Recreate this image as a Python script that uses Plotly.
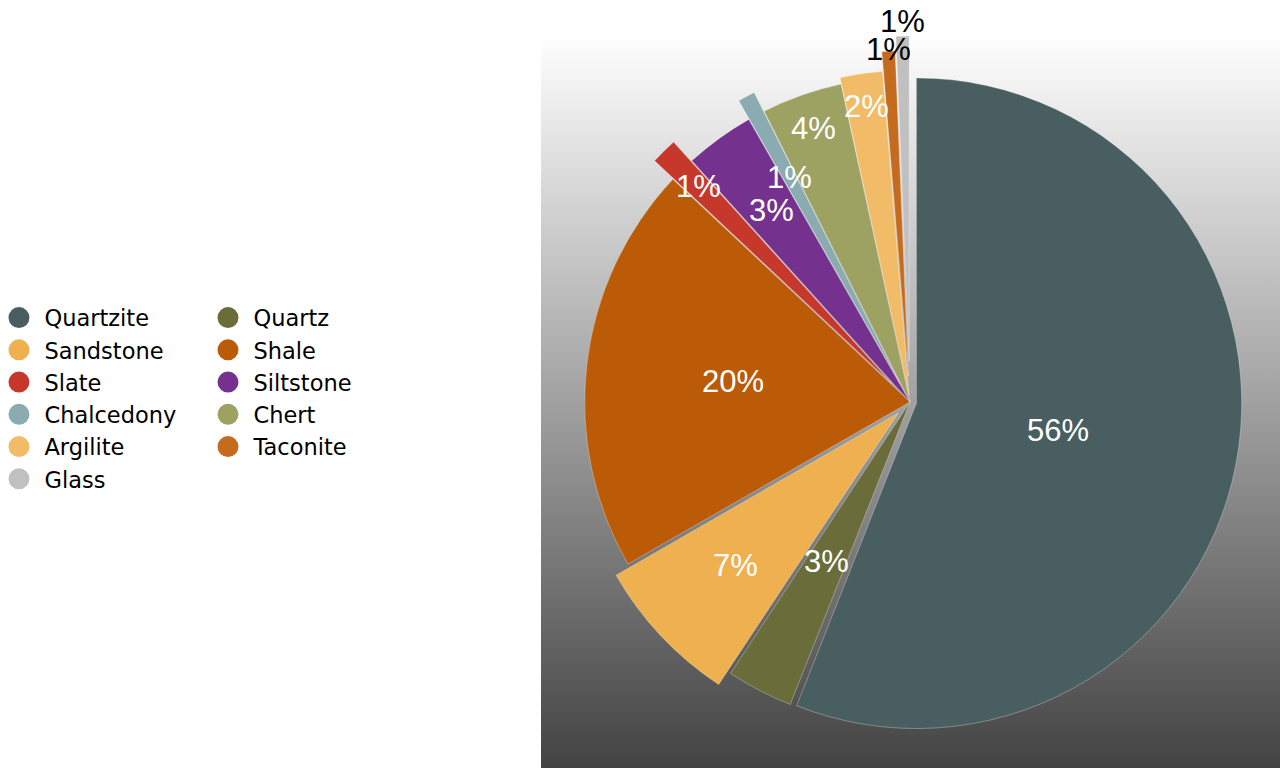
import base64
import math
import plotly.graph_objects as go

# Lithic material shares (percent of assemblage), clockwise from 12 o'clock
materials = ["Quartzite", "Quartz", "Sandstone", "Shale", "Slate", "Siltstone",
             "Chalcedony", "Chert", "Argilite", "Taconite", "Glass"]
shares = [56.0, 3.3, 7.4, 20.3, 1.3, 3.45, 0.85, 4.0, 2.1, 0.65, 0.65]
colors = ["#485e60", "#6a6d3a", "#efb04f", "#bb5a07", "#c6382c", "#75318e",
          "#8aabb0", "#9da262", "#f1bb67", "#c56b1f", "#c0c0c0"]
pulls = [0.02, 0.0, 0.05, 0.0, 0.08, 0.0, 0.065, 0.0, 0.02, 0.08, 0.125]

# percentage labels: distance from the slice tip (fraction of radius) and colour
label_radius = [0.444, 0.553, 0.685, 0.548, 0.846, 0.726, 0.719, 0.891, 0.899, 1.007, 1.046]
label_color = ["#ffffff"] * 9 + ["#000000", "#000000"]

# Legend columns (row-major order across two columns)
legend_col1 = ["Quartzite", "Sandstone", "Slate", "Chalcedony", "Argilite", "Glass"]
legend_col2 = ["Quartz", "Shale", "Siltstone", "Chert", "Taconite"]

W, H = 1280, 768
PIE_DOMAIN = dict(x=[0.421875, 1.0], y=[0.0, 0.953125])
LEGEND_FONT = dict(family="DejaVu Sans", size=22.5, color="#000000")
LABEL_FONT_FAMILY = "Liberation Sans"
LABEL_FONT_SIZE = 31

# vertical grey gradient panel behind the pie
grad_svg = (
    '<svg xmlns="http://www.w3.org/2000/svg" width="739" height="735">'
    '<defs><linearGradient id="g" x1="0" y1="0" x2="0" y2="1">'
    '<stop offset="0" stop-color="#ffffff"/>'
    '<stop offset="1" stop-color="#434343"/>'
    '</linearGradient></defs>'
    '<rect width="739" height="735" fill="url(#g)"/></svg>'
)
grad_src = "data:image/svg+xml;base64," + base64.b64encode(grad_svg.encode()).decode()

fig = go.Figure()

fig.add_trace(go.Pie(
    labels=materials,
    values=shares,
    sort=False,
    direction="clockwise",
    rotation=0,
    pull=pulls,
    marker=dict(colors=colors, line=dict(color="rgba(255,255,255,0.3)", width=1)),
    textinfo="none",
    domain=PIE_DOMAIN,
    showlegend=False,
    hoverinfo="label+percent",
))

# pie geometry in pixels, same rule the pie uses to size itself inside its domain
box_w = W * (PIE_DOMAIN["x"][1] - PIE_DOMAIN["x"][0])
box_h = H * (PIE_DOMAIN["y"][1] - PIE_DOMAIN["y"][0])
radius = min(box_w, box_h) / 2 / (1 + max(pulls))
cx = W * (PIE_DOMAIN["x"][0] + PIE_DOMAIN["x"][1]) / 2
cy = H * (1 - PIE_DOMAIN["y"][0]) - box_h / 2

# percentage labels along each slice's bisector
total = sum(shares)
annotations = []
start = 0.0
for v, p, rf, tc in zip(shares, pulls, label_radius, label_color):
    frac = v / total
    mid = 2 * math.pi * (start + frac / 2)
    start += frac
    dx, dy = math.sin(mid), -math.cos(mid)
    dist = (p + rf) * radius
    px, py = cx + dx * dist, cy + dy * dist
    annotations.append(dict(
        x=px / W, y=1 - py / H, xref="paper", yref="paper",
        text=f"{round(frac * 100)}%", showarrow=False,
        xanchor="center", yanchor="middle",
        font=dict(family=LABEL_FONT_FAMILY, size=LABEL_FONT_SIZE, color=tc),
    ))

# legend entries (round swatches) split into two columns
color_of = dict(zip(materials, colors))
for col, legend_id in ((legend_col1, "legend"), (legend_col2, "legend2")):
    for name in col:
        c = color_of[name]
        fig.add_trace(go.Scatter(
            x=[None], y=[None], mode="markers", name=name,
            marker=dict(size=16, color=c, symbol="circle", line=dict(color=c, width=5)),
            legend=legend_id, hoverinfo="skip",
        ))

legend_common = dict(
    font=LEGEND_FONT,
    bgcolor="rgba(0,0,0,0)",
    borderwidth=0,
    itemwidth=41,
    orientation="v",
    xanchor="left",
    yanchor="top",
    y=0.614,
    itemclick=False,
    itemdoubleclick=False,
    tracegroupgap=0,
)

fig.update_layout(
    width=W,
    height=H,
    margin=dict(l=0, r=0, t=0, b=0, pad=0, autoexpand=False),
    paper_bgcolor="#ffffff",
    plot_bgcolor="rgba(0,0,0,0)",
    xaxis=dict(visible=False),
    yaxis=dict(visible=False),
    legend=dict(x=-0.0051, **legend_common),
    legend2=dict(x=0.1582, **legend_common),
    annotations=annotations,
    images=[dict(
        source=grad_src,
        xref="paper", yref="paper",
        x=541 / W, y=1 - 33 / H,
        sizex=739 / W, sizey=735 / H,
        xanchor="left", yanchor="top",
        sizing="stretch", layer="below",
    )],
    showlegend=True,
)

fig.write_html("out.html")
